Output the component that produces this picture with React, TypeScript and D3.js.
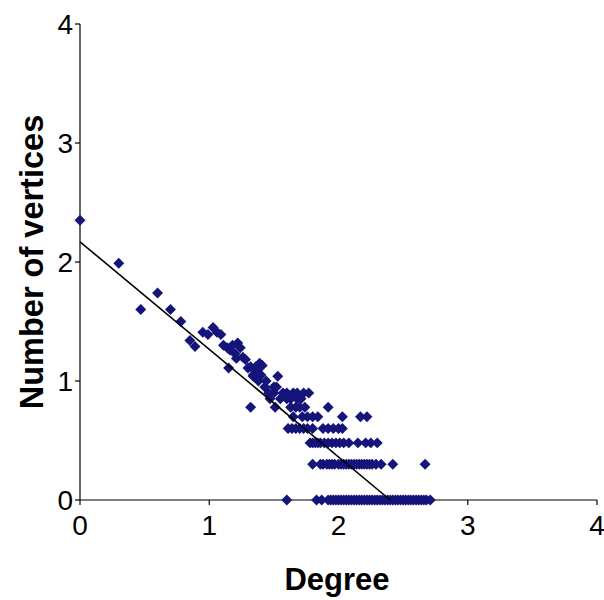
import React from "react";
import * as d3 from "d3";

const xTicks = [0, 1, 2, 3, 4];
const yTicks = [0, 1, 2, 3, 4];

// Scattered points (log degree, log count)
const upperX = [0, 0.30, 0.47, 0.60, 0.70, 0.78, 0.85, 0.89, 0.95, 0.99, 1.03, 1.06, 1.09, 1.11, 1.14, 1.16, 1.18, 1.20, 1.22, 1.24, 1.15, 1.21, 1.26, 1.28, 1.30, 1.32, 1.34, 1.36, 1.37, 1.39, 1.41, 1.40, 1.38, 1.44, 1.34, 1.53, 1.43, 1.50, 1.52];
const upperY = [2.35, 1.99, 1.60, 1.74, 1.60, 1.50, 1.34, 1.29, 1.41, 1.39, 1.45, 1.41, 1.39, 1.30, 1.28, 1.26, 1.30, 1.23, 1.32, 1.28, 1.11, 1.19, 1.20, 1.18, 1.11, 1.12, 1.05, 1.12, 1.09, 1.15, 1.13, 1.05, 1.00, 1.00, 1.04, 1.04, 0.95, 0.95, 0.95];

// Rows of equal count (log count value and log degree positions)
const row090 = [1.46, 1.50, 1.57, 1.60, 1.65, 1.68, 1.73, 1.77];
const row085 = [1.47, 1.55, 1.60, 1.63, 1.68, 1.71];
const row078 = [1.32, 1.51, 1.63, 1.67, 1.70, 1.74, 1.92];
const row070 = [1.65, 1.72, 1.76, 1.80, 1.84, 2.03, 2.17, 2.22];
const row060 = [1.61, 1.64, 1.67, 1.70, 1.73, 1.76, 1.80, 1.88, 1.92, 1.96, 2.00, 2.03];
const row048 = [1.78, 1.80, 1.82, 1.84, 1.86, 1.89, 1.92, 1.95, 1.98, 2.01, 2.04, 2.08, 2.15, 2.21, 2.25, 2.30];
const row030 = [1.80, 1.86, 1.88, 1.91, 1.93, 1.95, 1.97, 2.00, 2.02, 2.04, 2.06, 2.08, 2.10, 2.12, 2.14, 2.16, 2.18, 2.20, 2.22, 2.24, 2.26, 2.29, 2.33, 2.42, 2.67];
const row000 = [1.60, 1.83, 1.87, 1.92, 1.94, 1.96, 1.98, 2.00, 2.02, 2.04, 2.06, 2.08, 2.10, 2.12, 2.14, 2.16, 2.18, 2.20, 2.22, 2.24, 2.26, 2.28, 2.30, 2.32, 2.34, 2.36, 2.38, 2.40, 2.42, 2.44, 2.46, 2.48, 2.50, 2.52, 2.54, 2.56, 2.58, 2.60, 2.62, 2.64, 2.66, 2.68, 2.71];
const rowLevels = [0.90, 0.85, 0.78, 0.70, 0.60, 0.48, 0.30, 0.0];

// Fitted line endpoints
const fitX = [0, 2.40];
const fitY = [2.17, 0];

export default function App() {
  const W = 604, H = 600;
  const x = d3.scaleLinear().domain([0, 4]).range([80, 597]);
  const y = d3.scaleLinear().domain([0, 4]).range([500, 24]);

  const rows = [row090, row085, row078, row070, row060, row048, row030, row000];
  const pts: [number, number][] = [];
  upperX.forEach((v, i) => pts.push([v, upperY[i]]));
  rows.forEach((r, ri) => r.forEach((v) => pts.push([v, rowLevels[ri]])));

  const diamond = {
    draw(ctx: any, size: number) {
      const r = Math.sqrt(size / 2);
      ctx.moveTo(0, -r);
      ctx.lineTo(r, 0);
      ctx.lineTo(0, r);
      ctx.lineTo(-r, 0);
      ctx.closePath();
    },
  };
  const sym = d3.symbol().type(diamond as any).size(60)() as string;

  const line = d3
    .line<number>()
    .x((_, i) => x(fitX[i]))
    .y((_, i) => y(fitY[i]))(fitX) as string;

  const font = "Liberation Sans, Arial, sans-serif";

  return (
    <svg width={W} height={H} style={{ position: "absolute", left: 0, top: 0, background: "#fff" }}>
      <rect width={W} height={H} fill="#fff" />
      {/* axes */}
      <line x1={x(0)} x2={x(0)} y1={y(4)} y2={y(0)} stroke="#000" strokeWidth={1.2} />
      <line x1={x(0)} x2={x(4)} y1={y(0)} y2={y(0)} stroke="#000" strokeWidth={1.2} />
      {yTicks.map((t) => (
        <g key={"y" + t}>
          <line x1={x(0) - 5} x2={x(0)} y1={y(t)} y2={y(t)} stroke="#000" strokeWidth={1.2} />
          <text x={73} y={y(t) + 10} textAnchor="end" fontFamily={font} fontSize={28} fill="#000">
            {t}
          </text>
        </g>
      ))}
      {xTicks.map((t) => (
        <g key={"x" + t}>
          <line x1={x(t)} x2={x(t)} y1={y(0)} y2={y(0) + 5} stroke="#000" strokeWidth={1.2} />
          <text x={x(t)} y={535} textAnchor="middle" fontFamily={font} fontSize={28} fill="#000">
            {t}
          </text>
        </g>
      ))}
      {/* points */}
      {pts.map((p, i) => (
        <path key={i} d={sym} transform={`translate(${x(p[0])},${y(p[1])})`} fill="#14147a" />
      ))}
      {/* fit line */}
      <path d={line} stroke="#000" strokeWidth={1.6} fill="none" />
      {/* titles */}
      <text x={337} y={590} textAnchor="middle" fontFamily={font} fontSize={31} fontWeight="bold" fill="#000">
        Degree
      </text>
      <text
        transform={`translate(43,262) rotate(-90)`}
        textAnchor="middle"
        fontFamily={font}
        fontSize={32.5}
        fontWeight="bold"
        fill="#000"
      >
        Number of vertices
      </text>
    </svg>
  );
}
